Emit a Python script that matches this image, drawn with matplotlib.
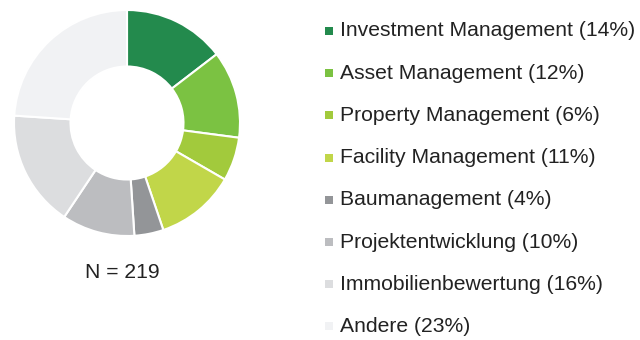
import matplotlib.pyplot as plt
from matplotlib.patches import Rectangle

plt.rcParams['font.family'] = ['Liberation Sans', 'DejaVu Sans']

labels = ["Investment Management", "Asset Management", "Property Management",
          "Facility Management", "Baumanagement", "Projektentwicklung",
          "Immobilienbewertung", "Andere"]
shares = [14, 12, 6, 11, 4, 10, 16, 23]
colors = ["#238a4d", "#7bc242", "#a2ca3c", "#c1d649",
          "#939598", "#bcbdc0", "#dcdddf", "#f1f2f4"]
n_total = 219

W, H = 640, 340
fig = plt.figure(figsize=(W / 100, H / 100), dpi=100)

# donut: centre (127, 123) px, radius 113 px
cx, cy, r = 127, 123, 113
ax = fig.add_axes([(cx - r) / W, (H - cy - r) / H, 2 * r / W, 2 * r / H])
ax.pie(shares, colors=colors, startangle=90, counterclock=False, radius=1,
       wedgeprops=dict(width=0.5, edgecolor="white", linewidth=1.5))
ax.set_xlim(-1, 1)
ax.set_ylim(-1, 1)
ax.set_aspect("equal")
ax.axis("off")

fs = 15.2
fig.text(122 / W, 1 - 272 / H, f"N = {n_total}", ha="center", va="center",
         fontsize=fs, color="#222222")

# legend drawn by hand
y0, step = 31, 42.2
for i, (lab, val, col) in enumerate(zip(labels, shares, colors)):
    y = y0 + i * step
    fig.patches.append(Rectangle((325 / W, 1 - (y + 4) / H), 8 / W, 8 / H,
                                 transform=fig.transFigure, facecolor=col,
                                 edgecolor="none"))
    fig.text(340 / W, 1 - y / H, f"{lab} ({val}%)", ha="left", va="center",
             fontsize=fs, color="#222222")

fig.savefig("out.png", dpi=100)
